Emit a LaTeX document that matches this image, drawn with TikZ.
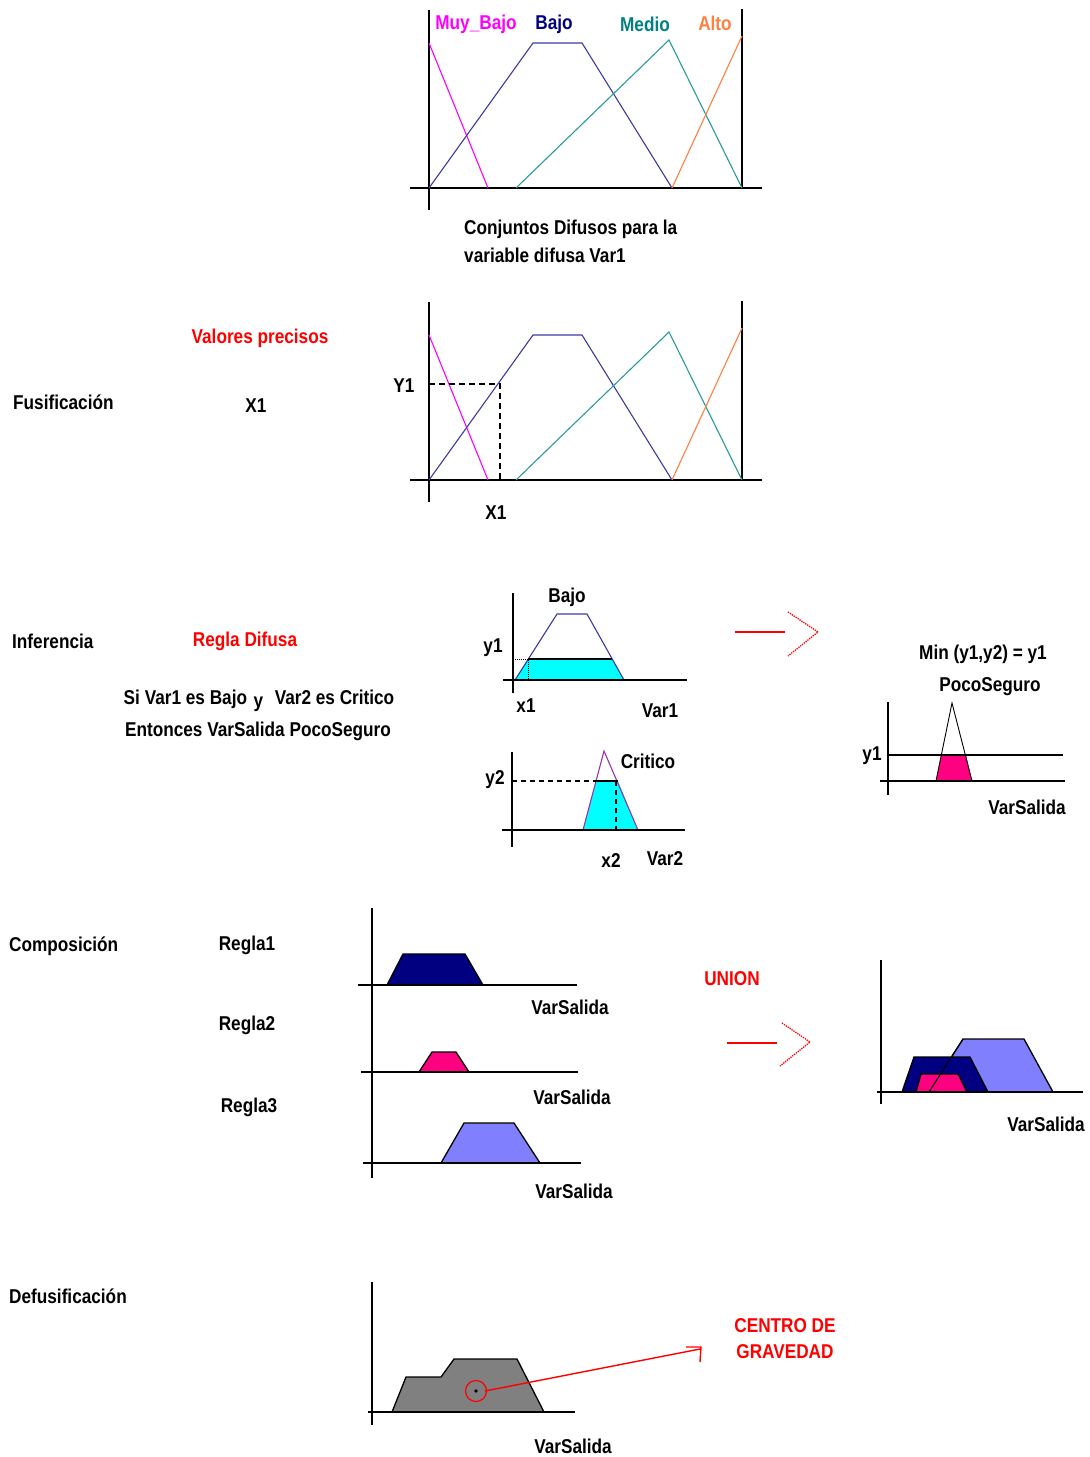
\documentclass[tikz,border=0pt]{standalone}
\usepackage{fontspec}
\setmainfont{Liberation Sans}[FakeStretch=0.86]
\definecolor{mbC}{HTML}{FF00FF}
\definecolor{bjC}{HTML}{3A3AA0}
\definecolor{bjL}{HTML}{000080}
\definecolor{mdC}{HTML}{2A9A9A}
\definecolor{mdL}{HTML}{008080}
\definecolor{alC}{HTML}{FF8040}
\definecolor{cyF}{HTML}{00FFFF}
\definecolor{pkF}{HTML}{FF0080}
\definecolor{nvF}{HTML}{000080}
\definecolor{lbF}{HTML}{8080FF}
\definecolor{gyF}{HTML}{808080}
\definecolor{crC}{HTML}{9933AA}
\begin{document}
\begin{tikzpicture}[x=1pt,y=-1pt,
  lbl/.style={font=\bfseries\fontsize{20}{26}\selectfont, inner sep=0pt},
  rlbl/.style={lbl, text=red},
  axis/.style={line width=1.6pt, black},
  curve/.style={line width=1.1pt},
  shp/.style={draw=black, line width=1.3pt},
  redline/.style={red, line width=1.6pt},
  chev/.style={red, line width=1.3pt, densely dotted}]
\useasboundingbox (0,0) rectangle (1090,1457);

% ---------- Section 1 : fuzzy sets ----------
\foreach \dy/\s in {0/a,292/b}{
  \begin{scope}[yshift=-\dy]
  \draw[axis] (429,10) -- (429,210);
  \draw[axis] (410,188) -- (762,188);
  \draw[axis] (742,9) -- (742,188);
  \draw[curve, mbC] (429,43) -- (488,188);
  \draw[curve, bjC] (429,188) -- (533,43) -- (582,43) -- (672,188);
  \draw[curve, mdC] (516,188) -- (669,40) -- (742,188);
  \draw[curve, alC] (672,188) -- (742,36);
  \end{scope}
}
\node[lbl, text=mbC] (lmb) at (476,24) {Muy\_Bajo};
\node[lbl, text=bjL] (lbj) at (554,24) {Bajo};
\node[lbl, text=mdL] (lmd) at (645,24) {Medio};
\node[lbl, text=alC] (lal) at (715,23) {Alto};
\node[lbl, anchor=west] (cap1) at (464,229) {Conjuntos Difusos para la};
\node[lbl, anchor=west] (cap2) at (464,255) {variable difusa Var1};

% ---------- Fusificacion ----------
\node[rlbl] (vp) at (260,338) {Valores precisos};
\node[lbl, anchor=west] (fus) at (13,402) {Fusificación};
\node[lbl] (x1a) at (256,406) {X1};
\coordinate (y1pt) at (429,384);
\coordinate (x1pt) at (500,384);
\coordinate (x1b) at (500,480);
\draw[line width=1.3pt, dash pattern=on 6pt off 4pt] (y1pt) -- (x1pt) -- (x1b);
\node[lbl] (Y1) at (404,386) {Y1};
\node[lbl] (X1) at (496,513) {X1};

% ---------- Inferencia ----------
\node[lbl, anchor=west] (inf) at (12,641) {Inferencia};
\node[rlbl] (rd) at (245,641) {Regla Difusa};
\node[lbl] (si) at (259,701) {Si Var1 es Bajo\,\,\raisebox{-3pt}{y}\,\, Var2 es Critico};
\node[lbl] (ent) at (258,731) {Entonces VarSalida PocoSeguro};

% upper chart Bajo
\fill[cyF] (515,680) -- (528,659) -- (612,659) -- (624,680) -- cycle;
\draw[curve, bjC] (515,680) -- (557,614) -- (587,614) -- (624,680);
\draw[line width=1.4pt] (528,659) -- (612,659);
\draw[line width=1pt, densely dotted] (513,659) -- (528,659) -- (528,680);
\draw[axis] (513,593) -- (513,693);
\draw[axis] (503,680) -- (687,680);
\node[lbl] (bj2) at (567,597) {Bajo};
\node[lbl] (y1l) at (493,648) {y1};
\node[lbl] (x1l) at (526,706) {x1};
\node[lbl] (v1) at (660,711) {Var1};

% lower chart Critico
\fill[cyF] (583,830) -- (596,781) -- (618,781) -- (638,830) -- cycle;
\draw[curve, crC] (583,830) -- (604,751) -- (638,830);
\draw[line width=1.3pt, dash pattern=on 5pt off 4pt] (512,781) -- (596,781);
\draw[line width=1.4pt] (596,781) -- (618,781);
\draw[line width=1.3pt, dash pattern=on 5pt off 4pt] (616,781) -- (616,830);
\draw[axis] (512,752) -- (512,847);
\draw[axis] (502,830) -- (685,830);
\node[lbl] (crt) at (648,761) {Critico};
\node[lbl] (y2l) at (495,780) {y2};
\node[lbl] (x2l) at (611,861) {x2};
\node[lbl] (v2) at (665,859) {Var2};

% arrow 1
\coordinate (ar1a) at (735,632);
\coordinate (ar1b) at (785,632);
\draw[redline] (ar1a) -- (ar1b);
\draw[chev] (788,612) -- (818,632) -- (788,656);

% result PocoSeguro
\node[lbl] (min) at (983,654) {Min (y1,y2) = y1};
\node[lbl] (ps) at (990,687) {PocoSeguro};
\fill[pkF] (936,781) -- (941,755) -- (966,755) -- (972,781) -- cycle;
\draw[line width=0.9pt] (936,781) -- (952,703) -- (972,781);
\draw[axis] (888,702) -- (888,795);
\draw[axis] (880,781) -- (1065,781);
\draw[axis] (888,755) -- (1063,755);
\node[lbl] (y1r) at (872,756) {y1};
\node[lbl] (vsr) at (1027,807) {VarSalida};

% ---------- Composicion ----------
\node[lbl, anchor=west] (comp) at (9,946) {Composición};
\node[lbl] (r1) at (247,945) {Regla1};
\node[lbl] (r2) at (247,1025) {Regla2};
\node[lbl] (r3) at (249,1107) {Regla3};

\draw[shp, fill=nvF] (387,985) -- (403,954) -- (465,954) -- (483,985);
\draw[shp, fill=pkF] (419,1072) -- (432,1052) -- (456,1052) -- (469,1072);
\draw[shp, fill=lbF] (441,1163) -- (464,1123) -- (514,1123) -- (540,1163);
\draw[axis] (372,908) -- (372,1178);
\draw[axis] (358,985) -- (577,985);
\draw[axis] (361,1072) -- (578,1072);
\draw[axis] (363,1163) -- (581,1163);
\node[lbl] (vs1) at (570,1007) {VarSalida};
\node[lbl] (vs2) at (572,1097) {VarSalida};
\node[lbl] (vs3) at (574,1191) {VarSalida};

\node[rlbl] (un) at (732,979) {UNION};
\coordinate (ar2a) at (727,1043);
\coordinate (ar2b) at (777,1043);
\draw[redline] (ar2a) -- (ar2b);
\draw[chev] (782,1023) -- (810,1042) -- (780,1066);

\draw[shp, fill=lbF] (929,1092) -- (963,1039) -- (1024,1039) -- (1053,1092);
\draw[shp, fill=nvF] (902,1092) -- (914,1057) -- (970,1057) -- (988,1092);
\draw[shp, fill=pkF] (916,1092) -- (921,1074) -- (958,1074) -- (967,1092);
\draw[line width=1.1pt] (929,1092) -- (963,1039);
\draw[axis] (881,960) -- (881,1104);
\draw[axis] (877,1092) -- (1083,1092);
\node[lbl] (vsu) at (1046,1124) {VarSalida};

% ---------- Defusificacion ----------
\node[lbl, anchor=west] (def) at (9,1296) {Defusificación};
\draw[shp, fill=gyF] (392,1412) -- (406,1377) -- (441,1377) -- (454,1359) -- (517,1359) -- (544,1412);
\draw[axis] (372,1282) -- (372,1425);
\draw[axis] (368,1412) -- (575,1412);
\node[circle, draw=red, line width=1.2pt, minimum size=21pt, inner sep=0pt] (cg) at (476,1391) {};
\fill (cg.center) circle (1.8pt);
\coordinate (tip) at (700,1349);
\draw[red, line width=1.4pt] (cg.center) ++(9,0) -- (tip);
\draw[red, line width=1.4pt] (686,1347) -- (701,1347) -- (700,1362);
\node[rlbl, align=center] (cgl) at (785,1339) {CENTRO DE\\GRAVEDAD};
\node[lbl] (vsd) at (573,1446) {VarSalida};
\end{tikzpicture}
\end{document}
